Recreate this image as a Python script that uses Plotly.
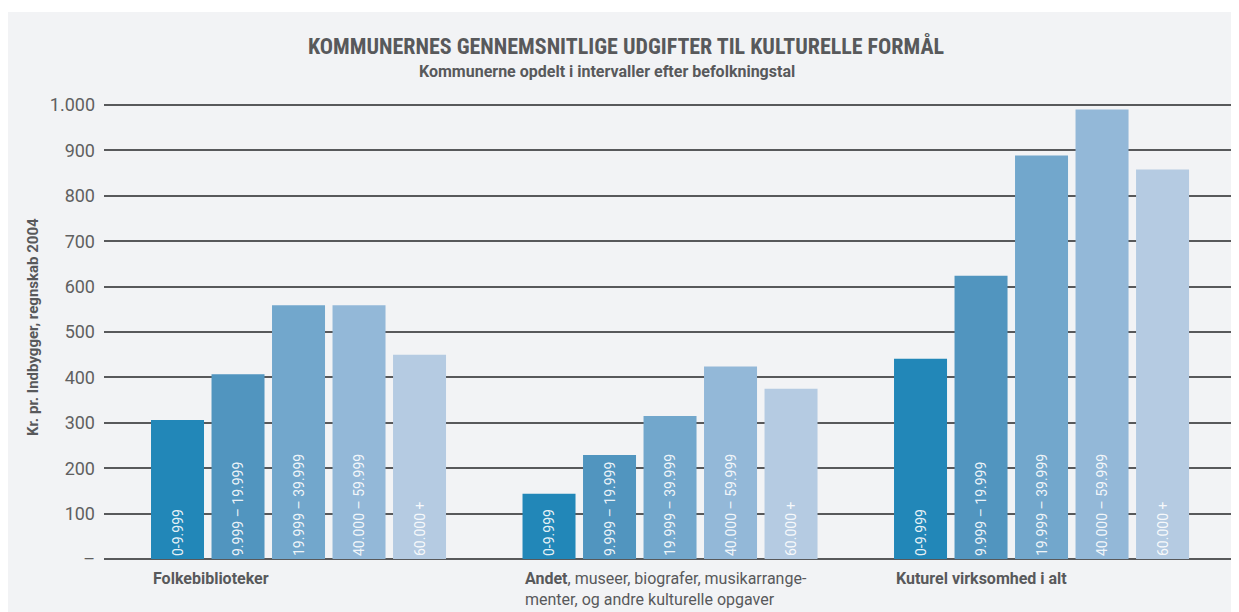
import plotly.graph_objects as go

categories = ["Folkebiblioteker", "Andet", "Kuturel virksomhed i alt"]
category_labels = [
    "<b>Folkebiblioteker</b>",
    "<b>Andet</b>, museer, biografer, musikarrange-<br>menter, og andre kulturelle opgaver",
    "<b>Kuturel virksomhed i alt</b>",
]
intervals = ["0-9.999", "9.999 – 19.999", "19.999 – 39.999", "40.000 – 59.999", "60.000 +"]
values_0_9999 = [306, 144, 441]
values_9999_19999 = [407, 229, 624]
values_19999_39999 = [559, 315, 889]
values_40000_59999 = [559, 424, 990]
values_60000_plus = [450, 375, 858]
series = [values_0_9999, values_9999_19999, values_19999_39999, values_40000_59999, values_60000_plus]
colors = ["#2287b8", "#5195bf", "#72a7cc", "#93b8d8", "#b5cbe2"]
tick_vals = [0, 100, 200, 300, 400, 500, 600, 700, 800, 900, 1000]
tick_text = ["–", "100", "200", "300", "400", "500", "600", "700", "800", "900", "1.000"]

BG = "#f2f3f5"
TXT = "#58595b"
FONT = "Roboto, Open Sans, sans-serif"
COND = "Roboto Condensed, Liberation Sans Narrow, DejaVu Sans Condensed, sans-serif"
bargap = 0.1857
bargroupgap = 0.124

fig = go.Figure()
xs = list(range(len(categories)))
for name, vals, col in zip(intervals, series, colors):
    fig.add_trace(go.Bar(
        x=xs, y=vals, name=name, marker=dict(color=col, line=dict(width=0)),
        text=[name] * len(vals), textposition="inside", insidetextanchor="start",
        textangle=-90, constraintext="none",
        insidetextfont=dict(family=FONT, size=14, color="rgba(255,255,255,0.9)"),
        hoverinfo="skip",
    ))

slot = (1 - bargap) / len(intervals)
left_off = -(1 - bargap) / 2 + slot * bargroupgap / 2

annotations = []
for i, lab in enumerate(category_labels):
    annotations.append(dict(
        x=i + left_off, y=-17, xref="x", yref="y", xanchor="left", yanchor="top",
        text=lab, showarrow=False, align="left",
        font=dict(family=FONT, size=16, color=TXT),
    ))
annotations.append(dict(
    x=0.4632, y=1.1032, xref="paper", yref="paper", xanchor="center", yanchor="middle",
    text="<b>KOMMUNERNES GENNEMSNITLIGE UDGIFTER TIL KULTURELLE FORMÅL</b>", showarrow=False,
    font=dict(family=COND, size=22, color=TXT),
))
annotations.append(dict(
    x=0.4463, y=1.0505, xref="paper", yref="paper", xanchor="center", yanchor="middle",
    text="<b>Kommunerne opdelt i intervaller efter befolkningstal</b>", showarrow=False,
    font=dict(family=FONT, size=16, color=TXT),
))
annotations.append(dict(
    x=-0.063, y=511, xref="paper", yref="y", xanchor="center", yanchor="middle",
    text="<b>Kr. pr. Indbygger, regnskab 2004</b>", showarrow=False, textangle=-90,
    font=dict(family=FONT, size=15, color=TXT),
))

fig.update_layout(
    width=1231, height=604,
    margin=dict(l=96, r=8, t=87, b=42),
    paper_bgcolor=BG, plot_bgcolor=BG,
    barmode="group", bargap=bargap, bargroupgap=bargroupgap,
    showlegend=False,
    annotations=annotations,
    xaxis=dict(range=[-0.5236, 2.510], showticklabels=False, showgrid=False, zeroline=False,
               showline=False, ticks=""),
    yaxis=dict(range=[-24.2, 1022], tickvals=tick_vals, ticktext=tick_text,
               showgrid=True, gridcolor=TXT, gridwidth=1.5, zeroline=False, showline=False,
               ticklabelstandoff=8,
               tickfont=dict(family=FONT, size=18, color="#606060")),
    shapes=[dict(type="rect", xref="paper", yref="paper", x0=-0.2, x1=1.2, y0=1.0 + (87 - 4) / 475, y1=1.3,
                 fillcolor="white", line=dict(width=0), layer="below")],
)

fig.write_html("out.html")
